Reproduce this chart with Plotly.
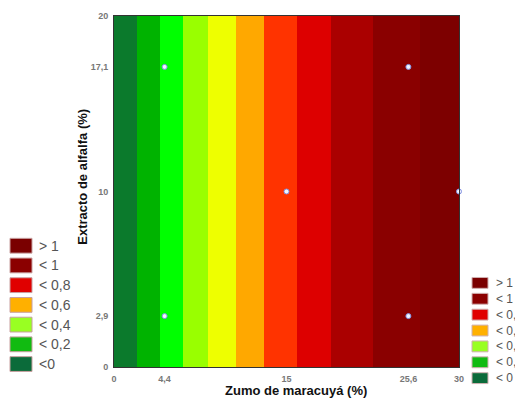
import plotly.graph_objects as go

# Data
band_edges = [0, 1.97, 4.0, 6.03, 8.2, 10.6, 13.04, 15.9, 18.9, 22.5, 26.6, 30]
band_colors = ["#0b7a2c", "#00b300", "#00ff00", "#99ff00", "#eeff00", "#ffa800",
               "#ff3300", "#dd0000", "#aa0000", "#8a0000", "#7d0000"]
y_edges = [0, 20]

design_x = [4.4, 25.6, 15, 30, 4.4, 25.6]
design_y = [17.1, 17.1, 10, 10, 2.9, 2.9]

x_ticks = [0, 4.4, 15, 25.6, 30]
x_ticklabels = ["0", "4,4", "15", "25,6", "30"]
y_ticks = [0, 2.9, 10, 17.1, 20]
y_ticklabels = ["0", "2,9", "10", "17,1", "20"]

legend_labels = ["> 1", "< 1", "< 0,8", "< 0,6", "< 0,4", "< 0,2", "<0"]
legend_labels_right = ["> 1", "< 1", "< 0,8", "< 0,6", "< 0,4", "< 0,2", "< 0"]
legend_colors = ["#7a0000", "#8b0000", "#e00000", "#ffb000", "#99ff22", "#11bb11", "#0b6b3a"]

W, H = 515, 399
ml, mr, mt, mb = 114, 56, 11, 32
pw, ph = W - ml - mr, H - mt - mb

n = len(band_colors)
z = [list(range(n))]
colorscale = [[i / (n - 1), c] for i, c in enumerate(band_colors)]

fig = go.Figure()
fig.add_trace(go.Heatmap(
    x=band_edges, y=y_edges, z=z, colorscale=colorscale, zmin=0, zmax=n - 1,
    showscale=False, hoverinfo="skip"))
fig.add_trace(go.Scatter(
    x=design_x, y=design_y, mode="markers", cliponaxis=False,
    marker=dict(size=5, color="#f0f4ff", line=dict(color="#7f8fe0", width=1)),
    showlegend=False))

def px2paper_x(px):
    return (px - ml) / pw

def px2paper_y(py):
    return 1 - (py - mt) / ph

shapes = []
annotations = []
# Left legend
for i, (lab, col) in enumerate(zip(legend_labels, legend_colors)):
    cy = 244 + 20 * i
    shapes.append(dict(type="rect", xref="paper", yref="paper",
                       x0=px2paper_x(10), x1=px2paper_x(32),
                       y0=px2paper_y(cy - 7.5), y1=px2paper_y(cy + 7.5),
                       fillcolor=col, line=dict(color="#c8a0a0", width=1)))
    annotations.append(dict(xref="paper", yref="paper", x=px2paper_x(37),
                            y=px2paper_y(cy), text=lab, showarrow=False,
                            xanchor="left", yanchor="middle",
                            font=dict(size=14, color="#555555", family="Liberation Sans")))
# Right legend
for i, (lab, col) in enumerate(zip(legend_labels_right, legend_colors)):
    cy = 281.7 + 16.1 * i
    shapes.append(dict(type="rect", xref="paper", yref="paper",
                       x0=px2paper_x(472), x1=px2paper_x(488),
                       y0=px2paper_y(cy - 5.5), y1=px2paper_y(cy + 5.5),
                       fillcolor=col, line=dict(color="#d0b0b0", width=1)))
    annotations.append(dict(xref="paper", yref="paper", x=px2paper_x(494),
                            y=px2paper_y(cy), text=lab, showarrow=False,
                            xanchor="left", yanchor="middle",
                            font=dict(size=12, color="#555555", family="Liberation Sans")))

# Axis titles
annotations.append(dict(xref="paper", yref="paper", x=px2paper_x(296), y=px2paper_y(391),
                        text="<b>Zumo de maracuyá (%)</b>", showarrow=False,
                        xanchor="center", yanchor="middle",
                        font=dict(size=13, color="#111111", family="Liberation Sans")))
annotations.append(dict(xref="paper", yref="paper", x=px2paper_x(83), y=px2paper_y(174),
                        text="<b>Extracto de alfalfa (%)</b>", showarrow=False, textangle=-90,
                        xanchor="center", yanchor="middle",
                        font=dict(size=13, color="#111111", family="Liberation Sans")))

fig.update_layout(
    width=W, height=H,
    margin=dict(l=ml, r=mr, t=mt, b=mb),
    paper_bgcolor="white", plot_bgcolor="white",
    shapes=shapes, annotations=annotations,
    font=dict(family="Liberation Sans"),
    xaxis=dict(range=[0, 30], tickvals=x_ticks, ticktext=["<b>%s</b>" % t for t in x_ticklabels],
               showgrid=False, zeroline=False, showline=True, linecolor="#333333",
               linewidth=1, mirror=True, ticks="", ticklabelstandoff=3,
               tickfont=dict(size=9, color="#777777")),
    yaxis=dict(range=[0, 20], tickvals=y_ticks, ticktext=["<b>%s</b>" % t for t in y_ticklabels],
               showgrid=False, zeroline=False, showline=True, linecolor="#333333",
               linewidth=1, mirror=True, ticks="", ticklabelstandoff=3,
               tickfont=dict(size=9, color="#777777")),
)

fig.write_html("out.html")
